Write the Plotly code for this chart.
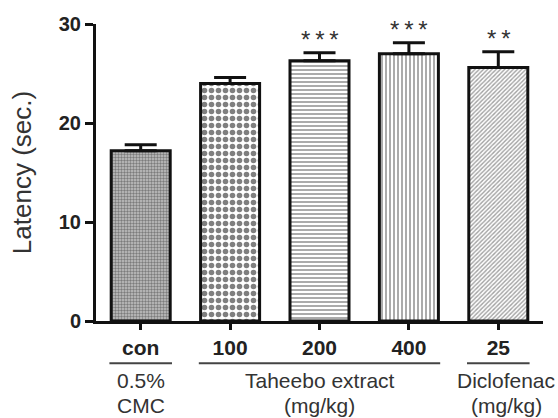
import plotly.graph_objects as go

categories = ["con", "100", "200", "400", "25"]
means = [17.2, 24.0, 26.3, 27.0, 25.6]
errors = [0.6, 0.6, 0.8, 1.1, 1.6]
stars = ["", "", "*\u2009*\u2009*", "*\u2009*\u2009*", "*\u2009*"]
group_line1 = ["0.5%", "Taheebo extract", "Diclofenac"]
group_line2 = ["CMC", "(mg/kg)", "(mg/kg)"]
group_first = [0, 1, 4]
group_last = [0, 3, 4]
y_ticks = [0, 10, 20, 30]

patterns = [
    dict(shape=".", size=3, solidity=0.5, fgcolor="#333333", bgcolor="#c4c4c4"),
    dict(shape=".", size=7, solidity=0.5, fgcolor="#000000", bgcolor="#ffffff"),
    dict(shape="-", size=4, solidity=0.45, fgcolor="#444444", bgcolor="#ffffff"),
    dict(shape="|", size=4, solidity=0.45, fgcolor="#444444", bgcolor="#ffffff"),
    dict(shape="/", size=3, solidity=0.45, fgcolor="#444444", bgcolor="#ffffff"),
]

fig = go.Figure()
for i, cat in enumerate(categories):
    fig.add_trace(go.Bar(
        x=[cat], y=[means[i]],
        width=0.66,
        marker=dict(color="white", line=dict(color="#111111", width=3), pattern=patterns[i]),
        error_y=dict(type="data", symmetric=False, array=[errors[i]], arrayminus=[0],
                     color="#111111", thickness=3, width=16),
        showlegend=False,
        cliponaxis=False,
    ))

for i, cat in enumerate(categories):
    if stars[i]:
        fig.add_annotation(xref="x", yref="y", x=i, y=means[i] + errors[i], text=stars[i],
                           showarrow=False, yanchor="bottom", yshift=-2,
                           font=dict(family="Arial", size=24, color="#333333"))

for g in range(len(group_line1)):
    a, b = group_first[g], group_last[g]
    x0 = a - 0.35
    x1 = b + 0.35
    fig.add_shape(type="line", xref="x", yref="paper", x0=x0, x1=x1, y0=-0.142, y1=-0.142,
                  line=dict(color="#444444", width=2))
    xc = (a + b) / 2 + (0.09 if g == 2 else 0)
    fig.add_annotation(xref="x", yref="paper", x=xc, y=-0.202, text=group_line1[g],
                       showarrow=False, yanchor="middle", xanchor="center",
                       font=dict(family="Arial", size=21, color="#333333"))
    fig.add_annotation(xref="x", yref="paper", x=xc, y=-0.283, text=group_line2[g],
                       showarrow=False, yanchor="middle", xanchor="center",
                       font=dict(family="Arial", size=21, color="#333333"))

fig.update_layout(
    width=558, height=418,
    margin=dict(l=96, r=15, t=24, b=97),
    plot_bgcolor="white", paper_bgcolor="white",
    font=dict(family="Arial"),
)
fig.update_xaxes(
    type="category", range=[-0.5, 4.5],
    showline=True, linecolor="#111111", linewidth=3,
    ticks="outside", ticklen=6, tickwidth=3, tickcolor="#111111",
    tickfont=dict(family="Arial", size=21, color="#222222", weight="bold"),
    showgrid=False, zeroline=False,
)
fig.update_yaxes(
    range=[0, 30], tickvals=y_ticks,
    showline=True, linecolor="#111111", linewidth=3,
    ticks="outside", ticklen=8, tickwidth=3, tickcolor="#111111",
    tickfont=dict(family="Arial", size=20, color="#222222", weight="bold"),
    showgrid=False, zeroline=False,
    title=dict(text="Latency (sec.)", font=dict(family="Arial", size=26, color="#333333"), standoff=20),
)

fig.write_html("out.html", config={"displayModeBar": False},
               post_script="document.body.style.margin='0';document.body.style.overflow='hidden';")
